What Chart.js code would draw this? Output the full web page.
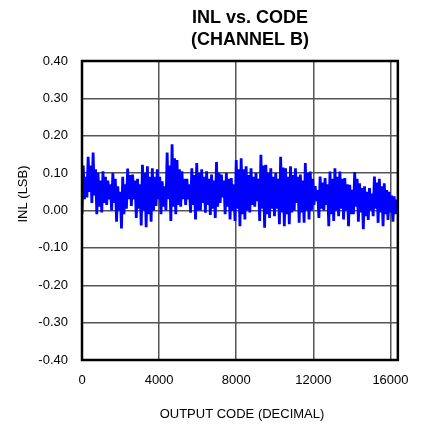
<!DOCTYPE html>
<html>
<head>
<meta charset="utf-8">
<script src="https://cdn.jsdelivr.net/npm/chart.js@4/dist/chart.umd.min.js"></script>
<style>
  html, body { margin: 0; padding: 0; background: #fff; }
  #wrap { width: 422px; height: 427px; }
</style>
</head>
<body>
<div id="wrap"><canvas id="chart" width="422" height="427"></canvas></div>
<script>
const titleLines = ["INL vs. CODE", "(CHANNEL B)"];
const xTitle = "OUTPUT CODE (DECIMAL)";
const yTitle = "INL (LSB)";
const xTicks = [0, 4000, 8000, 12000, 16000];
const yTicks = [-0.4, -0.3, -0.2, -0.1, 0, 0.1, 0.2, 0.3, 0.4];
const segCodes = 256;

// outer swings: lo, hi pairs every 256 codes
const inlOuter = [
  -0.010, 0.120,  0.035, 0.144,  0.020, 0.155, -0.010, 0.100,
  -0.005, 0.105,  0.015, 0.080,  0.000, 0.100, -0.030, 0.065,
  -0.048, 0.090,  0.005, 0.112,  0.012, 0.096, -0.020, 0.085,
  -0.040, 0.122, -0.045, 0.118, -0.030, 0.113,  0.012, 0.110,
  -0.010, 0.078,  0.000, 0.155, -0.028, 0.177, -0.010, 0.135,
   0.010, 0.105,  0.015, 0.085, -0.006, 0.113, -0.024, 0.127,
   0.000, 0.110, -0.006, 0.105, -0.012, 0.096, -0.020, 0.130,
   0.020, 0.096, -0.010, 0.100, -0.024, 0.087, -0.028, 0.135,
  -0.042, 0.140, -0.024, 0.118, -0.005, 0.113,  0.010, 0.100,
  -0.028, 0.149, -0.046, 0.122, -0.020, 0.113, -0.015, 0.100,
  -0.037, 0.144, -0.042, 0.113, -0.037, 0.118,  0.000, 0.113,
  -0.033, 0.096, -0.033, 0.127, -0.024, 0.104,  0.015, 0.065,
  -0.020, 0.091,  0.000, 0.087, -0.042, 0.104, -0.028, 0.113,
  -0.015, 0.104, -0.024, 0.087, -0.042, 0.069, -0.010, 0.103,
  -0.030, 0.073, -0.050, 0.065, -0.025, 0.060, -0.015, 0.091,
  -0.033, 0.085, -0.042, 0.073, -0.025, 0.050, -0.030, 0.038
];

// inner swings within the same segments
const inlInner = [
   0.030, 0.090,  0.050, 0.120,  0.040, 0.110,  0.010, 0.080,
   0.020, 0.090,  0.030, 0.070,  0.020, 0.085,  0.000, 0.050,
  -0.010, 0.070,  0.030, 0.095,  0.030, 0.080,  0.005, 0.070,
   0.000, 0.100, -0.010, 0.090,  0.000, 0.090,  0.030, 0.090,
   0.010, 0.065,  0.030, 0.120,  0.010, 0.140,  0.015, 0.110,
   0.030, 0.085,  0.030, 0.070,  0.015, 0.095,  0.000, 0.100,
   0.020, 0.090,  0.015, 0.085,  0.005, 0.080,  0.010, 0.100,
   0.035, 0.080,  0.010, 0.085,  0.000, 0.070,  0.005, 0.110,
  -0.010, 0.110,  0.000, 0.095,  0.015, 0.090,  0.025, 0.085,
   0.005, 0.120, -0.010, 0.100,  0.005, 0.090,  0.005, 0.085,
  -0.005, 0.115, -0.010, 0.090, -0.005, 0.095,  0.020, 0.090,
  -0.005, 0.080,  0.000, 0.100,  0.000, 0.085,  0.025, 0.055,
   0.005, 0.075,  0.015, 0.070, -0.010, 0.085,  0.000, 0.090,
   0.005, 0.085,  0.000, 0.070, -0.010, 0.055,  0.010, 0.085,
  -0.005, 0.060, -0.015, 0.050,  0.000, 0.045,  0.005, 0.075,
  -0.005, 0.065, -0.010, 0.055, -0.005, 0.040, -0.010, 0.030
];

const points = [];
for (let k = 0; k < inlOuter.length / 2; k++) {
  const c = k * segCodes;
  points.push({ x: c, y: inlOuter[2 * k] });
  points.push({ x: c + segCodes / 4, y: inlOuter[2 * k + 1] });
  points.push({ x: c + segCodes / 2, y: inlInner[2 * k] });
  points.push({ x: c + 3 * segCodes / 4, y: inlInner[2 * k + 1] });
}

const FONT = "Arial, 'Liberation Sans', sans-serif";

const textPlugin = {
  id: "texts",
  afterDatasetsDraw(chart) {
    const ctx = chart.ctx;
    const a = chart.chartArea;
    ctx.save();
    // plot frame
    ctx.strokeStyle = "#000";
    ctx.lineWidth = 2.5;
    ctx.strokeRect(a.left, a.top, a.right - a.left, a.bottom - a.top);
    ctx.fillStyle = "#000";
    ctx.textAlign = "center";
    ctx.textBaseline = "alphabetic";
    ctx.font = "bold 18px " + FONT;
    ctx.fillText(titleLines[0], 250, 23);
    ctx.fillText(titleLines[1], 250, 45);
    ctx.font = "13px " + FONT;
    ctx.textBaseline = "middle";
    ctx.fillText(xTitle, 242, 414);
    ctx.translate(23, 194);
    ctx.rotate(-Math.PI / 2);
    ctx.fillText(yTitle, 0, 0);
    ctx.restore();
  }
};

new Chart(document.getElementById("chart"), {
  type: "line",
  data: {
    datasets: [{
      data: points,
      borderColor: "#0000ff",
      borderWidth: 2.8,
      pointRadius: 0,
      tension: 0,
      fill: false
    }]
  },
  options: {
    responsive: false,
    animation: false,
    layout: { padding: { left: 0, top: 61, right: 20, bottom: 0 } },
    plugins: { legend: { display: false }, title: { display: false }, tooltip: { enabled: false } },
    scales: {
      x: {
        type: "linear",
        min: 0,
        max: 16384,
        afterBuildTicks: s => { s.ticks = xTicks.map(v => ({ value: v })); },
        afterFit: s => { s.height = 67; },
        grid: { color: "#555", lineWidth: 1.5, drawTicks: false },
        border: { display: false },
        ticks: {
          color: "#000",
          font: { family: FONT, size: 13 },
          padding: 13,
          maxRotation: 0,
          callback: v => String(v)
        }
      },
      y: {
        min: -0.4,
        max: 0.4,
        afterBuildTicks: s => { s.ticks = yTicks.map(v => ({ value: v })); },
        afterFit: s => { s.width = 82; },
        grid: { color: "#555", lineWidth: 1.5, drawTicks: false },
        border: { display: false },
        ticks: {
          color: "#000",
          font: { family: FONT, size: 13 },
          padding: 14,
          callback: v => v.toFixed(2)
        }
      }
    }
  },
  plugins: [textPlugin]
});
</script>
</body>
</html>
